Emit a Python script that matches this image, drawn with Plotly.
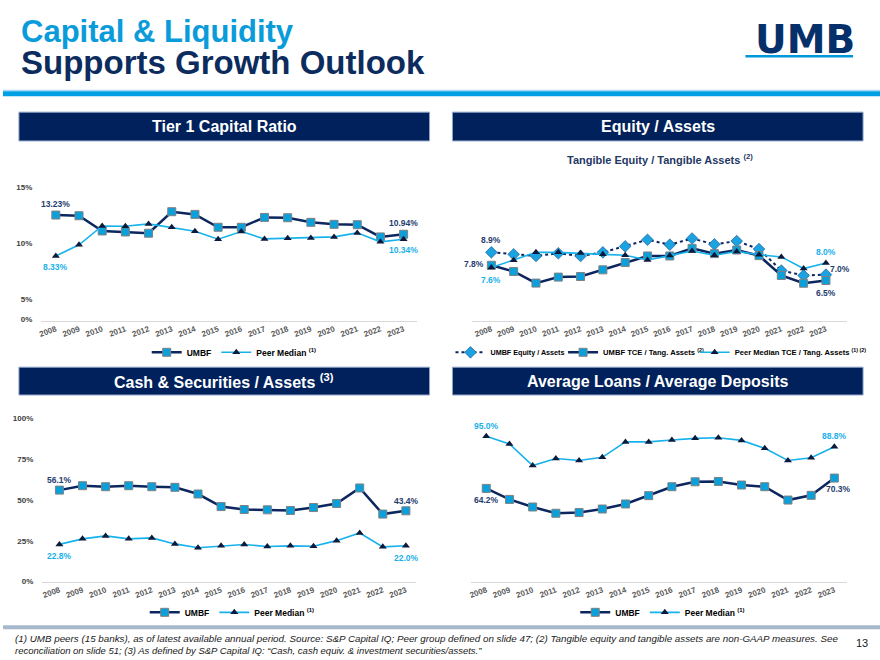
import plotly.graph_objects as go

# ---------------- data ----------------
years = list(range(2008, 2024))
year_labels = [str(y) for y in years]

tier1_umbf = [13.23, 13.15, 11.33, 11.21, 11.06, 13.63, 13.31, 11.77, 11.77, 12.95, 12.91, 12.36, 12.12, 12.08, 10.62, 10.94]
tier1_peer = [8.33, 9.67, 11.93, 11.89, 12.17, 11.77, 11.30, 10.34, 11.26, 10.38, 10.46, 10.50, 10.62, 11.10, 10.03, 10.34]

eq_umbf_equity = [8.9, 8.73, 8.59, 8.82, 8.59, 8.90, 9.41, 9.97, 9.55, 10.08, 9.58, 9.86, 9.18, 7.35, 6.93, 7.0]
eq_umbf_tce = [7.8, 7.27, 6.28, 6.79, 6.84, 7.41, 8.03, 8.59, 8.59, 9.24, 8.79, 9.10, 8.62, 6.93, 6.27, 6.5]
eq_peer_tce = [7.6, 8.22, 8.90, 8.90, 8.84, 8.73, 8.65, 8.25, 8.62, 9.01, 8.65, 8.98, 8.70, 8.51, 7.52, 8.0]

cash_umbf = [56.1, 58.8, 58.2, 58.8, 58.2, 57.8, 53.7, 46.0, 44.2, 44.0, 43.6, 45.4, 47.9, 57.4, 41.4, 43.4]
cash_peer = [22.8, 26.2, 28.0, 26.2, 26.8, 23.1, 20.7, 21.9, 22.7, 21.5, 21.9, 21.7, 25.1, 29.8, 21.3, 22.0]

ltd_umbf = [64.2, 57.7, 53.2, 49.5, 49.9, 52.0, 55.0, 59.9, 65.2, 68.1, 68.3, 66.2, 65.2, 57.3, 60.1, 70.3]
ltd_peer = [95.0, 90.5, 77.7, 81.9, 80.7, 82.6, 91.7, 91.7, 92.8, 93.8, 94.2, 92.6, 87.9, 80.7, 82.3, 88.8]

tier1_tick_text = ["0%", "5%", "10%", "15%"]
cash_tick_vals = [0, 25, 50, 75, 100]
cash_tick_text = ["0%", "25%", "50%", "75%", "100%"]

# ---------------- styling ----------------
W, H = 880, 660
FONT = "Liberation Sans, Arial, sans-serif"
NAVY = "#0C2660"
LIGHT = "#17B2EC"
SQ_FILL = "#0AA0DC"
SQ_EDGE = "#808080"
TRI = "#0B1A3A"
LAB_NAVY = "#1F3C6E"
LAB_LIGHT = "#1AB0EA"
BOX = "#00215B"


def px(x):
    return x / W


def py(y):
    return 1 - y / H


fig = go.Figure()


def umbf_trace(x, y, xa, ya, leg, name="UMBF"):
    return go.Scatter(x=x, y=y, xaxis=xa, yaxis=ya, legend=leg, name=name,
                      mode="lines+markers",
                      line=dict(color=NAVY, width=2.5),
                      marker=dict(symbol="square", size=8, color=SQ_FILL,
                                  line=dict(color=SQ_EDGE, width=1)),
                      hoverinfo="skip")


def peer_trace(x, y, xa, ya, leg, name="Peer Median <sup>(1)</sup>"):
    return go.Scatter(x=x, y=y, xaxis=xa, yaxis=ya, legend=leg, name=name,
                      mode="lines+markers",
                      line=dict(color=LIGHT, width=1.6),
                      marker=dict(symbol="triangle-up", size=7, color=TRI),
                      hoverinfo="skip")


# Chart 1
fig.add_trace(umbf_trace(years, tier1_umbf, "x", "y", "legend"))
fig.add_trace(peer_trace(years, tier1_peer, "x", "y", "legend"))
# Chart 2
fig.add_trace(go.Scatter(x=years, y=eq_umbf_equity, xaxis="x2", yaxis="y2", legend="legend2",
                         name="UMBF Equity / Assets", mode="lines+markers",
                         line=dict(color=NAVY, width=2, dash="dot"),
                         marker=dict(symbol="diamond", size=9, color="#1AA3E0",
                                     line=dict(color="#1B4F8A", width=0.6)),
                         hoverinfo="skip"))
fig.add_trace(umbf_trace(years, eq_umbf_tce, "x2", "y2", "legend5",
                         name="UMBF TCE / Tang. Assets <sup>(2)</sup>"))
fig.add_trace(peer_trace(years, eq_peer_tce, "x2", "y2", "legend6",
                         name="Peer Median TCE / Tang. Assets <sup>(1) (2)</sup>"))
# Chart 3
fig.add_trace(umbf_trace(years, cash_umbf, "x3", "y3", "legend3"))
fig.add_trace(peer_trace(years, cash_peer, "x3", "y3", "legend3"))
# Chart 4
fig.add_trace(umbf_trace(years, ltd_umbf, "x4", "y4", "legend4"))
fig.add_trace(peer_trace(years, ltd_peer, "x4", "y4", "legend4"))


def xaxis(x0, x1, rng, anchor):
    return dict(domain=[px(x0), px(x1)], range=rng, anchor=anchor,
                tickmode="array", tickvals=years, ticktext=year_labels,
                tickangle=-20, tickfont=dict(family=FONT, size=8, color="#595959", weight="bold"),
                showgrid=False, zeroline=False, showline=True, linecolor="#D9D9D9",
                linewidth=1, ticks="", fixedrange=True)


def yaxis(y_top, y_bottom, rng, anchor, tickvals=None, ticktext=None):
    d = dict(domain=[py(y_bottom), py(y_top)], range=rng, anchor=anchor,
             showgrid=False, zeroline=False, showline=False, fixedrange=True)
    if tickvals is None:
        d.update(showticklabels=False, ticks="")
    else:
        d.update(tickmode="array", tickvals=tickvals, ticktext=ticktext,
                 ticks="outside", ticklen=6, tickcolor="rgba(0,0,0,0)",
                 tickfont=dict(family=FONT, size=8, color="#404040", weight="bold"))
    return d


# Chart 1 scale (tick labels placed where the original slide shows them)
t1_ppu = 8.43
t1_ref_v, t1_ref_y = 13.23, 216.7


def t1v(ypix):
    return t1_ref_v - (ypix - t1_ref_y) / t1_ppu


tier1_tick_vals = [t1v(321.5), t1v(301), t1v(245), t1v(189)]

fig.update_layout(
    xaxis=xaxis(38, 415, [2007.355, 2023.56], "y"),
    yaxis=yaxis(185, 323, [t1v(323), t1v(185)], "x", tier1_tick_vals, tier1_tick_text),
    xaxis2=xaxis(471, 847, [2007.15, 2023.95], "y2"),
    yaxis2=yaxis(175, 323, [3.09, 15.6], "x2"),
    xaxis3=xaxis(39, 414, [2007.24, 2023.42], "y3"),
    yaxis3=yaxis(416, 586, [0, 103.5], "x3", cash_tick_vals, cash_tick_text),
    xaxis4=xaxis(470, 847, [2007.36, 2023.55], "y4"),
    yaxis4=yaxis(416, 586, [9.08, 108.9], "x4"),
)


def legend(x, yc, anchor="center", size=8.5):
    return dict(x=px(x), y=py(yc), xanchor=anchor, yanchor="middle", orientation="h",
                font=dict(family=FONT, size=size, color="#000000", weight="bold"),
                bgcolor="rgba(0,0,0,0)", itemwidth=30,
                itemclick=False, itemdoubleclick=False)


fig.update_layout(legend=legend(232, 355), legend3=legend(230, 617), legend4=legend(662, 617),
                  legend2=legend(449, 355, "left", 7.2), legend5=legend(562, 355, "left", 7.6),
                  legend6=legend(694, 355, "left", 7.6))

shapes = []
annotations = []

# top rule
shapes.append(dict(type="rect", xref="paper", yref="paper", x0=0, x1=1, y0=py(92), y1=py(90.5),
                   fillcolor="#A9D9F3", line=dict(width=0), layer="below"))
shapes.append(dict(type="rect", xref="paper", yref="paper", x0=0, x1=1, y0=py(97), y1=py(92),
                   fillcolor="#009FE3", line=dict(width=0), layer="below"))
# bottom rule
shapes.append(dict(type="rect", xref="paper", yref="paper", x0=0, x1=1, y0=py(634), y1=py(630),
                   fillcolor="#A6B9CC", line=dict(width=0), layer="below"))
# logo underline
shapes.append(dict(type="rect", xref="paper", yref="paper", x0=px(745), x1=px(853), y0=py(58), y1=py(55.5),
                   fillcolor="#0097DA", line=dict(width=0)))

# header boxes
boxes = [(16, 428, 113, 142, "Tier 1 Capital Ratio"),
         (451, 863, 113, 142, "Equity / Assets"),
         (16, 428, 370, 398, "Cash & Securities / Assets <sup>(3)</sup>"),
         (451, 863, 370, 398, "Average Loans / Average Deposits")]
for x0, x1, y0, y1, t in boxes:
    shapes.append(dict(type="rect", xref="paper", yref="paper", x0=px(x0), x1=px(x1),
                       y0=py(y1), y1=py(y0), fillcolor=BOX, line=dict(color="#8EA4C8", width=1)))
    annotations.append(dict(xref="paper", yref="paper", x=px((x0 + x1) / 2), y=py((y0 + y1) / 2),
                            text=t, showarrow=False, xanchor="center", yanchor="middle",
                            font=dict(family=FONT, size=16, color="white", weight="bold")))

# titles
annotations.append(dict(xref="paper", yref="paper", x=px(16), y=py(32), text="Capital & Liquidity",
                        showarrow=False, xanchor="left", yanchor="middle",
                        font=dict(family=FONT, size=31, color="#0A9BDB", weight="bold")))
annotations.append(dict(xref="paper", yref="paper", x=px(16), y=py(63), text="Supports Growth Outlook",
                        showarrow=False, xanchor="left", yanchor="middle",
                        font=dict(family=FONT, size=33, color="#0D2C5E", weight="bold")))
# logo
annotations.append(dict(xref="paper", yref="paper", x=px(857), y=py(40), text="UMB",
                        showarrow=False, xanchor="right", yanchor="middle",
                        font=dict(family="DejaVu Sans, sans-serif", size=39, color="#06306A", weight="bold")))

# subtitle chart 2
annotations.append(dict(xref="paper", yref="paper", x=px(659), y=py(160),
                        text="Tangible Equity / Tangible Assets <sup>(2)</sup>",
                        showarrow=False, xanchor="center", yanchor="middle",
                        font=dict(family=FONT, size=11, color="#1F3864", weight="bold")))


def lab(xa, ya, x, y, text, color, xs=0, ys=0):
    annotations.append(dict(xref=xa, yref=ya, x=x, y=y, text=text, showarrow=False,
                            xanchor="center", yanchor="middle", xshift=xs, yshift=ys,
                            font=dict(family=FONT, size=8.5, color=color, weight="bold")))


def pct(v, d):
    return f"{v:.{d}f}%"


# chart 1 labels
lab("x", "y", years[0], tier1_umbf[0], pct(tier1_umbf[0], 2), LAB_NAVY, 0, 11)
lab("x", "y", years[0], tier1_peer[0], pct(tier1_peer[0], 2), LAB_LIGHT, 0, -11)
lab("x", "y", years[-1], tier1_umbf[-1], pct(tier1_umbf[-1], 2), LAB_NAVY, 0, 11)
lab("x", "y", years[-1], tier1_peer[-1], pct(tier1_peer[-1], 2), LAB_LIGHT, 0, -11)
# chart 2 labels
lab("x2", "y2", years[0], eq_umbf_equity[0], pct(eq_umbf_equity[0], 1), LAB_NAVY, 0, 12)
lab("x2", "y2", years[0], eq_umbf_tce[0], pct(eq_umbf_tce[0], 1), LAB_NAVY, -17, 1)
lab("x2", "y2", years[0], eq_peer_tce[0], pct(eq_peer_tce[0], 1), LAB_LIGHT, 0, -12)
lab("x2", "y2", years[-1], eq_peer_tce[-1], pct(eq_peer_tce[-1], 1), LAB_LIGHT, 0, 11)
lab("x2", "y2", years[-1], eq_umbf_equity[-1], pct(eq_umbf_equity[-1], 1), LAB_NAVY, 14, 6)
lab("x2", "y2", years[-1], eq_umbf_tce[-1], pct(eq_umbf_tce[-1], 1), LAB_NAVY, 0, -12)
# chart 3 labels
lab("x3", "y3", years[0], cash_umbf[0], pct(cash_umbf[0], 1), LAB_NAVY, 0, 10)
lab("x3", "y3", years[0], cash_peer[0], pct(cash_peer[0], 1), LAB_LIGHT, 0, -12)
lab("x3", "y3", years[-1], cash_umbf[-1], pct(cash_umbf[-1], 1), LAB_NAVY, 1, 10)
lab("x3", "y3", years[-1], cash_peer[-1], pct(cash_peer[-1], 1), LAB_LIGHT, 1, -12)
# chart 4 labels
lab("x4", "y4", years[0], ltd_peer[0], pct(ltd_peer[0], 1), LAB_LIGHT, 0, 10)
lab("x4", "y4", years[-1], ltd_peer[-1], pct(ltd_peer[-1], 1), LAB_LIGHT, 0, 11)
lab("x4", "y4", years[0], ltd_umbf[0], pct(ltd_umbf[0], 1), LAB_NAVY, 0, -12)
lab("x4", "y4", years[-1], ltd_umbf[-1], pct(ltd_umbf[-1], 1), LAB_NAVY, 4, -11)

# footnote
foot1 = ("(1) UMB peers (15 banks), as of latest available annual period. Source: S&P Capital IQ; "
         "Peer group defined on slide 47; (2) Tangible equity and tangible assets are non-GAAP measures. See")
foot2 = "reconciliation on slide 51; (3) As defined by S&P Capital IQ: \u201cCash, cash equiv. & investment securities/assets.\u201d"
annotations.append(dict(xref="paper", yref="paper", x=px(10), y=py(643), text=f"<i>{foot1}</i>",
                        showarrow=False, xanchor="left", yanchor="middle",
                        font=dict(family=FONT, size=9.8, color="#1A1A1A")))
annotations.append(dict(xref="paper", yref="paper", x=px(10), y=py(655), text=f"<i>{foot2}</i>",
                        showarrow=False, xanchor="left", yanchor="middle",
                        font=dict(family=FONT, size=9.5, color="#1A1A1A")))
annotations.append(dict(xref="paper", yref="paper", x=px(862), y=py(648), text="13",
                        showarrow=False, xanchor="center", yanchor="middle",
                        font=dict(family=FONT, size=11, color="#1A1A1A")))

fig.update_layout(width=W, height=H, autosize=False, margin=dict(l=0, r=0, t=0, b=0),
                  paper_bgcolor="white", plot_bgcolor="white",
                  shapes=shapes, annotations=annotations, hovermode=False,
                  font=dict(family=FONT))

fig.write_html("out.html", config={"displayModeBar": False, "responsive": False},
               post_script="document.body.style.margin='0';document.body.style.overflow='hidden';")
